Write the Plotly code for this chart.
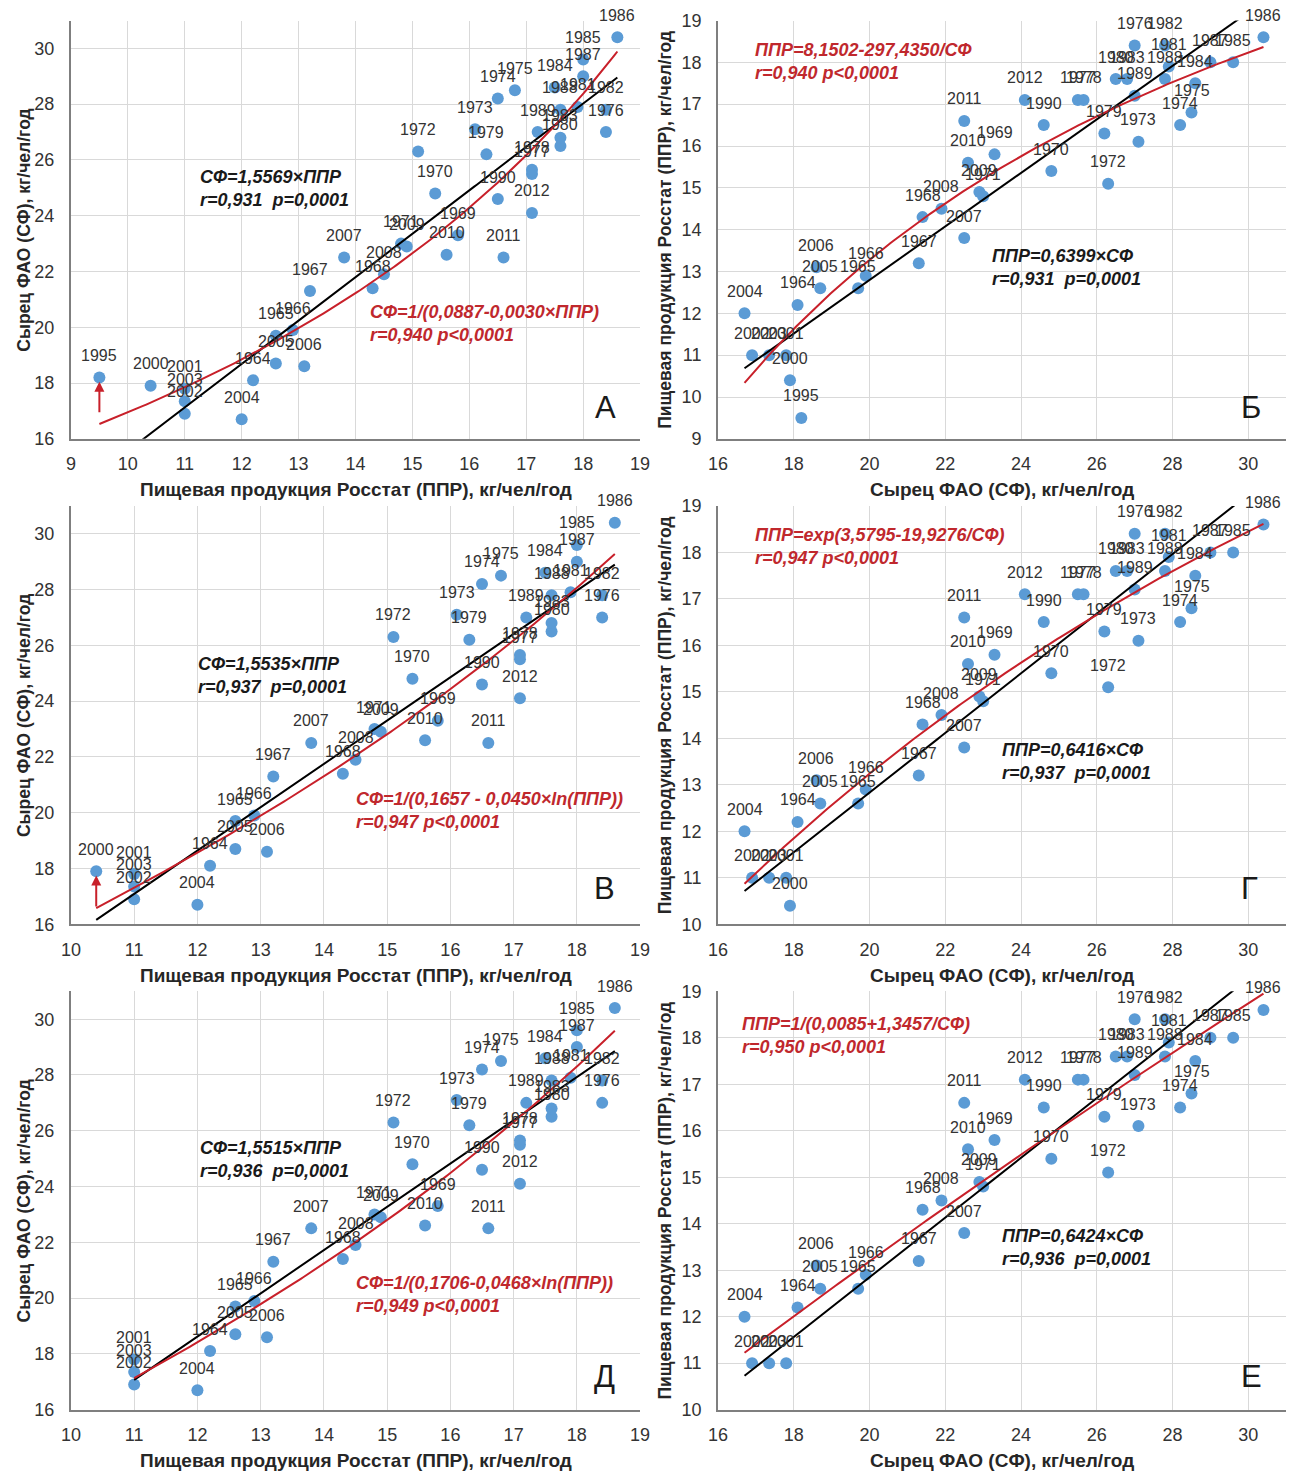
import numpy as np
import plotly.graph_objects as go

# ---------------- data ----------------
years = [1964, 1965, 1966, 1967, 1968, 1969, 1970, 1971, 1972, 1973, 1974, 1975, 1976,
         1977, 1978, 1979, 1980, 1981, 1982, 1983, 1984, 1985, 1986, 1987, 1988, 1989,
         1990, 1995, 2000, 2001, 2002, 2003, 2004, 2005, 2006, 2007, 2008, 2009, 2010,
         2011, 2012]
# Пищевая продукция Росстат (ППР), кг/чел/год
ppr = [12.2, 12.6, 12.9, 13.2, 14.3, 15.8, 15.4, 14.8, 15.1, 16.1, 16.5, 16.8, 18.4,
       17.1, 17.1, 16.3, 17.6, 17.9, 18.4, 17.6, 17.5, 18.0, 18.6, 18.0, 17.6, 17.2,
       16.5, 9.5, 10.4, 11.0, 11.0, 11.0, 12.0, 12.6, 13.1, 13.8, 14.5, 14.9, 15.6,
       16.6, 17.1]
# Сырец ФАО (СФ), кг/чел/год
sf = [18.1, 19.7, 19.9, 21.3, 21.4, 23.3, 24.8, 23.0, 26.3, 27.1, 28.2, 28.5, 27.0,
      25.5, 25.65, 26.2, 26.5, 27.9, 27.8, 26.8, 28.6, 29.6, 30.4, 29.0, 27.8, 27.0,
      24.6, 18.2, 17.9, 17.8, 16.9, 17.35, 16.7, 18.7, 18.6, 22.5, 21.9, 22.9, 22.6,
      22.5, 24.1]

# years excluded in each row of panels
excluded_AB = []
excluded_VG = [1995]
excluded_DE = [1995, 2000]

# fit coefficients
fit_A_lin = 1.5569
fit_A_inv = [0.0887, 0.00297]
fit_B_lin = 0.6399
fit_B_hyp = [28.1502, 297.4350]
fit_V_lin = 1.5535
fit_V_log = [0.1657, 0.0450]
fit_G_lin = 0.6416
fit_G_exp = [3.5795, 19.9276]
fit_D_lin = 1.5515
fit_D_log = [0.1706, 0.0468]
fit_E_lin = 0.6424
fit_E_inv = [0.0085, 1.3457]

W, H = 1299, 1473
# the captured page is offset/scaled slightly; layout positions are compensated
CX, SX = 17.0, 0.986
CY, SY = 17.5, 0.9856
BLUE = '#5B9BD5'
RED = '#C8202A'
RED_TXT = '#C0282D'
FONT = 'Liberation Sans, Arial, sans-serif'


def fx(x):
    return (x - CX) / SX


def fy(y):
    return (y - CY) / SY


def px(x):
    return min(max(fx(x) / W, 0), 1)


def py(y):
    return min(max(1 - fy(y) / H, 0), 1)


panels = [
    dict(letter='А', xa='x', ya='y', dom_x=(70, 640), dom_y=(20, 438), xr=[9, 19], yr=[16, 31],
         xd=1, yd=2, x0=9, y0=16, excl=excluded_AB, swap=False,
         black=lambda x: fit_A_lin * x,
         red=lambda x: 1 / (fit_A_inv[0] - fit_A_inv[1] * x),
         eq_black=('<b><i>СФ=1,5569×ППР<br>r=0,931  p=0,0001</i></b>', 197, 188),
         eq_red=('<b><i>СФ=1/(0,0887-0,0030×ППР)<br>r=0,940 p&lt;0,0001</i></b>', 367, 323),
         letter_pos=(605, 407), arrow=(9.5, 18.05, 16.9)),
    dict(letter='Б', xa='x2', ya='y2', dom_x=(718, 1287), dom_y=(20, 438), xr=[16, 31], yr=[9, 19],
         xd=2, yd=1, x0=16, y0=9, excl=excluded_AB, swap=True,
         black=lambda x: fit_B_lin * x,
         red=lambda x: fit_B_hyp[0] - fit_B_hyp[1] / x,
         eq_black=('<b><i>ППР=0,6399×СФ<br>r=0,931  p=0,0001</i></b>', 990, 267),
         eq_red=('<b><i>ППР=8,1502-297,4350/СФ<br>r=0,940 p&lt;0,0001</i></b>', 753, 61),
         letter_pos=(1252, 407), arrow=None),
    dict(letter='В', xa='x3', ya='y3', dom_x=(70, 640), dom_y=(505, 923), xr=[10, 19], yr=[16, 31],
         xd=1, yd=2, x0=10, y0=16, excl=excluded_VG, swap=False,
         black=lambda x: fit_V_lin * x,
         red=lambda x: 1 / (fit_V_log[0] - fit_V_log[1] * np.log(x)),
         eq_black=('<b><i>СФ=1,5535×ППР<br>r=0,937  p=0,0001</i></b>', 195, 674),
         eq_red=('<b><i>СФ=1/(0,1657 - 0,0450×ln(ППР))<br>r=0,947 p&lt;0,0001</i></b>', 353, 809),
         letter_pos=(604, 887), arrow=(10.4, 17.75, 16.58)),
    dict(letter='Г', xa='x4', ya='y4', dom_x=(718, 1287), dom_y=(505, 923), xr=[16, 31], yr=[10, 19],
         xd=2, yd=1, x0=16, y0=10, excl=excluded_VG, swap=True,
         black=lambda x: fit_G_lin * x,
         red=lambda x: np.exp(fit_G_exp[0] - fit_G_exp[1] / x),
         eq_black=('<b><i>ППР=0,6416×СФ<br>r=0,937  p=0,0001</i></b>', 1000, 760),
         eq_red=('<b><i>ППР=exp(3,5795-19,9276/СФ)<br>r=0,947 p&lt;0,0001</i></b>', 753, 546),
         letter_pos=(1250, 887), arrow=None),
    dict(letter='Д', xa='x5', ya='y5', dom_x=(70, 640), dom_y=(990, 1408), xr=[10, 19], yr=[16, 31],
         xd=1, yd=2, x0=10, y0=16, excl=excluded_DE, swap=False,
         black=lambda x: fit_D_lin * x,
         red=lambda x: 1 / (fit_D_log[0] - fit_D_log[1] * np.log(x)),
         eq_black=('<b><i>СФ=1,5515×ППР<br>r=0,936  p=0,0001</i></b>', 197, 1158),
         eq_red=('<b><i>СФ=1/(0,1706-0,0468×ln(ППР))<br>r=0,949 p&lt;0,0001</i></b>', 353, 1293),
         letter_pos=(604, 1375), arrow=None),
    dict(letter='Е', xa='x6', ya='y6', dom_x=(718, 1287), dom_y=(990, 1408), xr=[16, 31], yr=[10, 19],
         xd=2, yd=1, x0=16, y0=10, excl=excluded_DE, swap=True,
         black=lambda x: fit_E_lin * x,
         red=lambda x: 1 / (fit_E_inv[0] + fit_E_inv[1] / x),
         eq_black=('<b><i>ППР=0,6424×СФ<br>r=0,936  p=0,0001</i></b>', 1000, 1246),
         eq_red=('<b><i>ППР=1/(0,0085+1,3457/СФ)<br>r=0,950 p&lt;0,0001</i></b>', 740, 1034),
         letter_pos=(1252, 1375), arrow=None),
]

fig = go.Figure()
annotations = []
layout_axes = {}

title_ppr = 'Пищевая продукция Росстат (ППР), кг/чел/год'
title_sf = 'Сырец ФАО (СФ), кг/чел/год'

for i, p in enumerate(panels):
    idx = '' if i == 0 else str(i + 1)
    keep = [k for k, yv in enumerate(years) if yv not in p['excl']]
    if p['swap']:
        xs = [sf[k] for k in keep]
        ys = [ppr[k] for k in keep]
    else:
        xs = [ppr[k] for k in keep]
        ys = [sf[k] for k in keep]
    yrs = [years[k] for k in keep]

    fig.add_trace(go.Scatter(x=xs, y=ys, mode='markers', xaxis=p['xa'], yaxis=p['ya'],
                             marker=dict(color=BLUE, size=12), showlegend=False))
    xl = np.linspace(min(xs), max(xs), 200)
    fig.add_trace(go.Scatter(x=xl, y=p['black'](xl), mode='lines', xaxis=p['xa'], yaxis=p['ya'],
                             line=dict(color='black', width=2), showlegend=False))
    fig.add_trace(go.Scatter(x=xl, y=p['red'](xl), mode='lines', xaxis=p['xa'], yaxis=p['ya'],
                             line=dict(color=RED, width=2), showlegend=False))

    for xv, yv, yr_ in zip(xs, ys, yrs):
        annotations.append(dict(x=xv, y=yv, xref=p['xa'], yref=p['ya'], text=str(yr_),
                                showarrow=False, yshift=22, xanchor='center', yanchor='middle',
                                font=dict(family=FONT, size=16, color='#333333')))

    axis_common = dict(showgrid=True, gridcolor='#d9d9d9', gridwidth=1, zeroline=False,
                       showline=True, linecolor='#7f7f7f', linewidth=2, ticks='',
                       tickfont=dict(family=FONT, size=18, color='#333333'))
    layout_axes['xaxis' + idx] = dict(axis_common, domain=[px(p['dom_x'][0]), px(p['dom_x'][1])],
                                      range=p['xr'], dtick=p['xd'], tick0=p['x0'],
                                      anchor=p['ya'], ticklabelstandoff=8)
    layout_axes['yaxis' + idx] = dict(axis_common, domain=[py(p['dom_y'][1]), py(p['dom_y'][0])],
                                      range=p['yr'], dtick=p['yd'], tick0=p['y0'],
                                      anchor=p['xa'], ticklabelstandoff=11)

    # equations
    for (txt, lx, ly), col in ((p['eq_black'], '#1a1a1a'), (p['eq_red'], RED_TXT)):
        annotations.append(dict(x=px(lx), y=py(ly), xref='paper', yref='paper', text=txt,
                                showarrow=False, xanchor='left', yanchor='middle', align='left',
                                font=dict(family=FONT, size=18, color=col)))
    # panel letter
    annotations.append(dict(x=px(p['letter_pos'][0]), y=py(p['letter_pos'][1]), xref='paper',
                            yref='paper', text=p['letter'], showarrow=False,
                            xanchor='center', yanchor='middle',
                            font=dict(family=FONT, size=31, color='#1a1a1a')))
    # axis titles
    cx = (p['dom_x'][0] + p['dom_x'][1]) / 2
    cy = (p['dom_y'][0] + p['dom_y'][1]) / 2
    xt = title_sf if p['swap'] else title_ppr
    yt = title_ppr if p['swap'] else title_sf
    annotations.append(dict(x=px(cx), y=py(p['dom_y'][1] + 51), xref='paper', yref='paper',
                            text='<b>' + xt + '</b>', showarrow=False,
                            xanchor='center', yanchor='middle',
                            font=dict(family=FONT, size=19, color='#262626')))
    ytx = 665 if p['swap'] else 23
    annotations.append(dict(x=px(ytx), y=py(cy), xref='paper', yref='paper',
                            text='<b>' + yt + '</b>', showarrow=False, textangle=-90,
                            xanchor='center', yanchor='middle',
                            font=dict(family=FONT, size=17.5, color='#262626')))
    # red arrow
    if p['arrow'] is not None:
        ax_, head, tail = p['arrow']
        annotations.append(dict(x=ax_, y=head, ax=ax_, ay=tail, xref=p['xa'], yref=p['ya'],
                                axref=p['xa'], ayref=p['ya'], text='', showarrow=True,
                                arrowhead=2, arrowsize=1, arrowwidth=2, arrowcolor=RED,
                                standoff=0, startstandoff=0))

fig.update_layout(width=W, height=H, margin=dict(l=0, r=0, t=0, b=0),
                  plot_bgcolor='white', paper_bgcolor='white', showlegend=False,
                  annotations=annotations, **layout_axes)

fig.write_html('out.html')
